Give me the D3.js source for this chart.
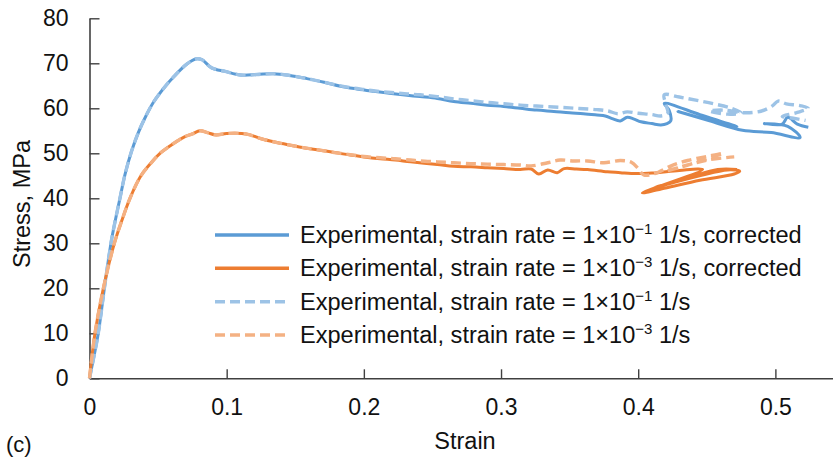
<!DOCTYPE html>
<html>
<head>
<meta charset="utf-8">
<script src="https://cdn.jsdelivr.net/npm/d3@7"></script>
<style>
  html, body { margin: 0; padding: 0; background: #fff; }
  svg { display: block; font-family: "Liberation Sans", Arial, sans-serif; }
</style>
</head>
<body>
<svg id="chart" width="833" height="458"></svg>
<script>
// Stress-strain curves, [strain, stress in MPa]
const rateFastCorrected = [
  [0,0],[0.003,4.5],[0.0064,10],[0.0113,21],[0.0162,31],[0.0222,40],[0.0259,45.3],[0.0307,50.5],
  [0.0356,54.6],[0.0405,57.9],[0.0465,61.3],[0.055,64.8],[0.0623,67.3],[0.0708,69.8],[0.0781,71],
  [0.082,70.8],[0.089,69.0],[0.099,68.2],
  [0.11,67.4],[0.122,67.5],[0.134,67.7],[0.146,67.3],[0.1585,66.6],[0.171,65.8],[0.183,64.9],
  [0.195,64.3],[0.207,63.8],[0.22,63.3],[0.2315,62.9],[0.241,62.6],[0.2535,62.2],[0.2655,61.5],
  [0.278,61.1],[0.29,60.7],[0.302,60.4],[0.314,60.0],[0.326,59.6],[0.3385,59.3],[0.35,59.0],
  [0.36,58.8],[0.37,58.5],[0.376,58.3],[0.381,57.7],[0.387,57.2],[0.392,58.0],[0.397,57.6],
  [0.402,57.0],[0.41,56.6],[0.4165,56.3],[0.421,56.6],[0.4237,57.2],[0.4225,59.6],[0.419,61.1],
  [0.445,58.6],[0.472,55.9],[0.45,57.5],[0.429,59.3],[0.452,57.2],[0.476,55.1],[0.497,54.6],
  [0.518,53.5],[0.509,56.0],[0.492,56.6],[0.505,56.5],[0.509,58.0],[0.516,56.5],[0.524,55.8]
];
const rateSlowCorrected = [
  [0,0],[0.004,10],[0.0101,20],[0.0181,30],[0.0235,35],[0.0295,40],[0.0375,45],[0.0453,48],
  [0.0514,50],[0.0604,52],[0.0696,53.7],[0.075,54.3],[0.0805,55.0],[0.086,54.6],[0.0916,54.1],
  [0.1,54.4],[0.111,54.4],[0.117,54.1],[0.1245,53.3],[0.135,52.5],[0.1464,51.8],[0.157,51.2],
  [0.168,50.7],[0.18,50.1],[0.19,49.6],[0.2,49.2],[0.212,48.8],[0.223,48.5],[0.234,48.1],
  [0.2535,47.5],[0.2655,47.1],[0.278,47.0],[0.29,46.8],[0.302,46.6],[0.314,46.4],[0.322,46.5],
  [0.3275,45.4],[0.334,46.3],[0.341,45.7],[0.346,46.6],[0.355,46.5],[0.363,46.4],[0.3775,45.9],
  [0.387,45.7],[0.395,45.5],[0.41,45.6],[0.43,46.2],[0.447,46.4],[0.403,41.2],[0.42,42.3],
  [0.445,44.0],[0.47,45.4],[0.474,46.0],[0.465,46.3],[0.412,42.4],[0.436,44.5],[0.458,46.4],
  [0.472,46.4]
];
const rateFastRaw = [
  [0,0],[0.003,4.5],[0.0064,10],[0.0113,21],[0.0162,31],[0.0222,40],[0.0259,45.3],[0.0307,50.5],
  [0.0356,54.6],[0.0405,57.9],[0.0465,61.3],[0.055,64.8],[0.0623,67.3],[0.0708,69.8],[0.0781,71],
  [0.082,70.8],[0.089,69.0],[0.099,68.2],
  [0.11,67.4],[0.122,67.5],[0.134,67.7],[0.146,67.3],[0.1585,66.6],[0.171,65.8],[0.183,65.0],
  [0.195,64.4],[0.207,63.9],[0.22,63.5],[0.2315,63.2],[0.241,63.0],[0.2535,62.6],[0.2655,62.1],
  [0.278,61.7],[0.29,61.3],[0.302,61.0],[0.314,60.7],[0.326,60.5],[0.3385,60.3],[0.35,60.1],
  [0.36,59.9],[0.37,59.7],[0.378,59.4],[0.385,58.8],[0.392,59.2],[0.4,58.9],[0.41,58.6],
  [0.4165,58.3],[0.4215,58.9],[0.42,61.0],[0.419,63.0],[0.43,62.5],[0.442,61.8],[0.455,61.0],
  [0.467,60.1],[0.475,59.0],[0.465,58.7],[0.452,59.4],[0.462,59.6],[0.478,59.0],[0.49,59.4],
  [0.498,60.6],[0.502,61.6],[0.508,61.0],[0.518,60.6],[0.524,60.0],[0.515,59.0],[0.505,58.2],
  [0.513,57.8],[0.522,57.3]
];
const rateSlowRaw = [
  [0,0],[0.004,10],[0.0101,20],[0.0181,30],[0.0235,35],[0.0295,40],[0.0375,45],[0.0453,48],
  [0.0514,50],[0.0604,52],[0.0696,53.7],[0.075,54.3],[0.0805,55.0],[0.086,54.6],[0.0916,54.1],
  [0.1,54.4],[0.111,54.4],[0.117,54.1],[0.1245,53.3],[0.135,52.5],[0.1464,51.8],[0.157,51.2],
  [0.168,50.7],[0.18,50.1],[0.19,49.7],[0.2,49.3],[0.212,49.0],[0.223,48.8],[0.234,48.5],
  [0.241,48.3],[0.2535,48.1],[0.2655,47.9],[0.278,47.7],[0.29,47.6],[0.302,47.5],[0.314,47.4],
  [0.322,47.2],[0.334,47.9],[0.343,48.5],[0.353,48.3],[0.363,48.3],[0.375,47.9],[0.387,48.4],
  [0.395,48.0],[0.4,46.6],[0.404,45.2],[0.412,45.5],[0.424,47.2],[0.436,48.4],[0.45,49.3],
  [0.462,50.0],[0.45,48.8],[0.432,47.0],[0.42,46.0],[0.436,47.4],[0.452,48.6],[0.47,49.2]
];

const xTicks = [0, 0.1, 0.2, 0.3, 0.4, 0.5];
const yTicks = [0, 10, 20, 30, 40, 50, 60, 70, 80];

const series = [
  { data: rateFastCorrected, color: "#5B9BD5", dash: null, exp: "\u22121", tail: " 1/s, corrected" },
  { data: rateSlowCorrected, color: "#ED7D31", dash: null, exp: "\u22123", tail: " 1/s, corrected" },
  { data: rateFastRaw,       color: "#9DC3E6", dash: "10,5", exp: "\u22121", tail: " 1/s" },
  { data: rateSlowRaw,       color: "#F4B183", dash: "10,5", exp: "\u22123", tail: " 1/s" }
];

const svg = d3.select("#chart");
const x = d3.scaleLinear().domain([0, 0.542]).range([89.5, 833]);
const y = d3.scaleLinear().domain([0, 80]).range([378.3, 18.3]);
const axisColor = "#404040";
const font = "'Liberation Sans', Arial, sans-serif";

// axes with inward ticks
const gx = svg.append("g").attr("transform", `translate(0,${y(0)})`)
  .call(d3.axisBottom(x).tickValues(xTicks).tickSizeInner(-9).tickSizeOuter(0)
    .tickPadding(20).tickFormat(d => d === 0 ? "0" : d3.format(".1f")(d)));
const gy = svg.append("g").attr("transform", `translate(${x(0)},0)`)
  .call(d3.axisLeft(y).tickValues(yTicks).tickSizeInner(-10).tickSizeOuter(0)
    .tickPadding(21).tickFormat(d3.format("d")));
[gx, gy].forEach(g => {
  g.select(".domain").attr("stroke", axisColor).attr("stroke-width", 1.6);
  g.selectAll(".tick line").attr("stroke", axisColor).attr("stroke-width", 1.4);
  g.selectAll(".tick text").attr("fill", "#111").style("font-size", "23px")
    .style("font-family", font);
});

// curves
const line = d3.line().x(d => x(d[0])).y(d => y(d[1])).curve(d3.curveCatmullRom.alpha(0.5));
svg.append("g").selectAll("path").data(series).join("path")
  .attr("d", s => line(s.data))
  .attr("fill", "none")
  .attr("stroke", s => s.color)
  .attr("stroke-width", s => s.dash ? 3.4 : 3)
  .attr("stroke-dasharray", s => s.dash)
  .attr("stroke-linejoin", "round");

// legend
const legend = svg.append("g");
const rowY = [235, 268.3, 301.7, 335];
const legendTexts = [];
series.forEach((s, i) => {
  const g = legend.append("g").attr("transform", `translate(0,${rowY[i]})`);
  g.append("line").attr("x1", 215).attr("x2", 289).attr("y1", 0).attr("y2", 0)
    .attr("stroke", s.color).attr("stroke-width", 3.5).attr("stroke-dasharray", s.dash);
  const t = g.append("text").attr("x", 300).attr("y", 8).attr("fill", "#111")
    .style("font-size", "22px");
  t.append("tspan").text("Experimental, strain rate = 1\u00d710");
  t.append("tspan").attr("class", "sup").text(s.exp).attr("dy", -9).style("font-size", "14px");
  t.append("tspan").text(s.tail).attr("dy", 9);
  legendTexts.push(t);
});
// keep the longest entry ending at x = 802
const longest = legendTexts[0].node().getComputedTextLength();
if (longest > 0) {
  const k = 502 / longest;
  legendTexts.forEach(t => {
    t.style("font-size", (22 * k) + "px");
    t.select(".sup").style("font-size", (14 * k) + "px");
  });
}

// axis titles
svg.append("text").attr("x", 465).attr("y", 449).attr("text-anchor", "middle")
  .attr("fill", "#111").style("font-size", "23.5px").text("Strain");
svg.append("text").attr("transform", "translate(30,204) rotate(-90)")
  .attr("text-anchor", "middle").attr("fill", "#111").style("font-size", "23.5px")
  .text("Stress, MPa");
svg.append("text").attr("x", 6).attr("y", 452).attr("fill", "#111")
  .style("font-size", "22px").text("(c)");
</script>
</body>
</html>
